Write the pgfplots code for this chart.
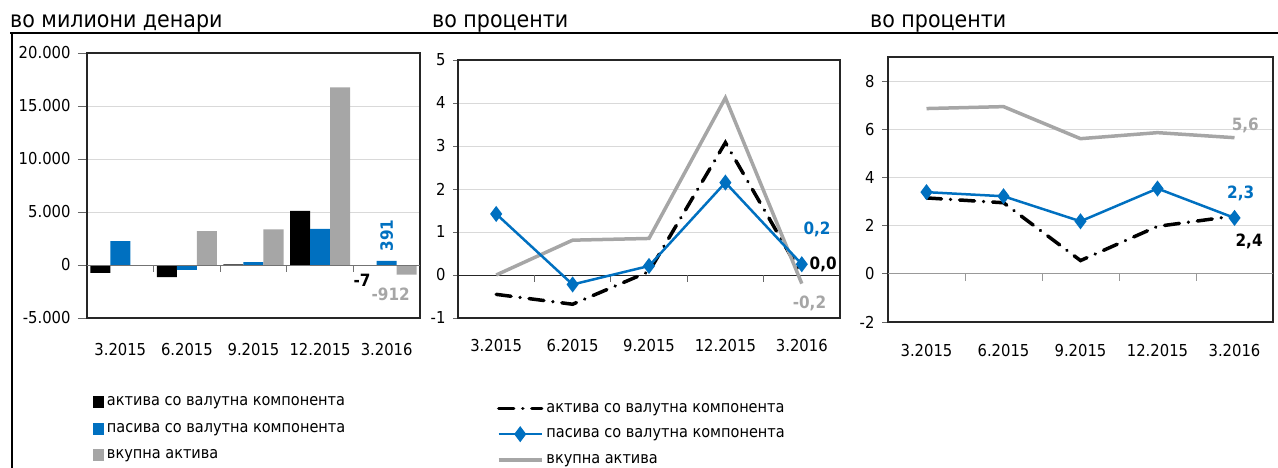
\documentclass[border=0pt]{standalone}
\usepackage{fontspec}
\setmainfont{DejaVu Sans Condensed}
\usepackage{pgfplots}
\pgfplotsset{compat=1.18}
\definecolor{nbblue}{RGB}{0,112,192}
\definecolor{nbgray}{RGB}{166,166,166}
\definecolor{gridc}{RGB}{217,217,217}

\tikzset{
  lbl/.style={font=\fontsize{17}{19}\selectfont\bfseries, inner sep=0pt},
  aktiva/.style={black, line width=3.5bp, line cap=round, dash pattern=on 15bp off 9bp on 0.1bp off 9bp},
  pasiva/.style={nbblue, line width=2.5bp, mark=diamond*, mark size=6bp, mark options={solid}},
  vkupna/.style={nbgray, line width=3.5bp},
}

\pgfplotsset{
  panel/.style={
    scale only axis, clip=false,
    xmin=-0.5, xmax=4.5,
    xtick={0,...,4},
    xticklabels={3.2015,6.2015,9.2015,12.2015,3.2016},
    x tick style={draw=none},
    xticklabel style={inner sep=0pt, anchor=north, yshift=-16bp},
    yticklabel style={xshift=-4bp},
    tick label style={font=\fontsize{16.5}{18}\selectfont},
    /pgf/number format/assume math mode=true,
    ymajorgrids, grid style={gridc, line width=1bp},
    axis line style={black!85, line width=1.3bp},
    y tick style={black!60, line width=0.8bp},
    tick align=outside, major tick length=6bp, ytick pos=left,
    legend style={draw=none, fill=none, inner sep=0pt, outer sep=0pt,
      font=\fontsize{16.2}{18}\selectfont,
      nodes={inner sep=0pt, anchor=west},
      /tikz/every odd column/.append style={column sep=3bp}},
    legend cell align=left,
  },
  barleg/.style={legend image code/.code={\fill[##1] (0bp,-6bp) rectangle (11bp,6bp);}},
  lineleg/.style={legend image code/.code={
    \draw[mark repeat=2, mark phase=2, ##1] plot coordinates {(0bp,0bp) (21.5bp,0bp) (43bp,0bp)};}},
}

\begin{document}
\begin{tikzpicture}
\useasboundingbox (0,0) rectangle (1278bp,-468bp);

% frame and titles
\draw[black, line width=2bp] (10bp,-33bp) -- (1278bp,-33bp);
\draw[black, line width=2bp] (12bp,-33bp) -- (12bp,-468bp);
\node[anchor=base west, inner sep=0pt, font=\fontsize{23}{25}\selectfont] at (10bp,-27bp) {во милиони денари};
\node[anchor=base west, inner sep=0pt, font=\fontsize{23}{25}\selectfont] at (432bp,-27bp) {во проценти};
\node[anchor=base west, inner sep=0pt, font=\fontsize{23}{25}\selectfont] at (870bp,-27bp) {во проценти};

% panel 1: bars
\begin{axis}[panel, at={(87bp,-53bp)}, anchor=north west,
    width=333bp, height=265bp,
    ybar=0pt, bar width=20bp, major tick length=9bp,
    ymin=-5000, ymax=20000, ytick={-5000,0,5000,10000,15000,20000},
    scaled y ticks=false,
    yticklabel style={/pgf/number format/.cd, 1000 sep={.}, fixed},
    legend style={at={(0.018,-0.295)}, anchor=north west,
      /tikz/row sep=14.5bp}]
  \addplot[fill=black, draw=none, barleg] coordinates {(0,-750) (1,-1150) (2,50) (3,5100) (4,-7)};
  \addlegendentry{актива со валутна компонента}
  \addplot[fill=nbblue, draw=none, barleg] coordinates {(0,2260) (1,-450) (2,280) (3,3400) (4,391)};
  \addlegendentry{пасива со валутна компонента}
  \addplot[fill=nbgray, draw=none, barleg] coordinates {(0,0) (1,3200) (2,3370) (3,16750) (4,-912)};
  \addlegendentry{вкупна актива}
  \draw[black!55, line width=1bp] (axis cs:-0.5,0) -- (axis cs:4.5,0);
  \pgfplotsinvokeforeach{0.5,1.5,2.5,3.5}{\draw[black!55, line width=1bp] (axis cs:#1,0) -- ([yshift=-7bp]axis cs:#1,0);}
  \node[lbl, black] at (axis cs:3.63,-1415) {-7};
  \node[lbl, nbgray] at (axis cs:4.06,-2735) {-912};
  \node[lbl, nbblue, rotate=90] at (axis cs:4.0,2800) {391};
\end{axis}

% panel 2
\begin{axis}[panel, at={(458bp,-60bp)}, anchor=north west,
    width=382bp, height=258bp, major tick length=5bp,
    ymin=-1, ymax=5, ytick={-1,0,...,5},
    legend style={at={(0.102,-0.33)}, anchor=north west,
      /tikz/row sep=14.5bp}]
  \draw[black!85, line width=1bp] (axis cs:-0.5,0) -- (axis cs:4.5,0);
  \pgfplotsinvokeforeach{0.5,1.5,2.5,3.5}{\draw[black!60, line width=1bp] (axis cs:#1,0) -- ([yshift=-7bp]axis cs:#1,0);}
  \addplot[aktiva, forget plot] coordinates {(0,-0.45) (1,-0.68) (2,0.08) (3,3.08) (4,0.0)};
  \addplot[vkupna, forget plot] coordinates {(0,0.0) (1,0.81) (2,0.85) (3,4.12) (4,-0.2)};
  \addplot[pasiva, forget plot] coordinates {(0,1.42) (1,-0.22) (2,0.21) (3,2.15) (4,0.25)};
  \addlegendimage{aktiva, lineleg}
  \addlegendentry{актива со валутна компонента}
  \addlegendimage{pasiva, lineleg}
  \addlegendentry{пасива со валутна компонента}
  \addlegendimage{vkupna, lineleg}
  \addlegendentry{вкупна актива}
  \node[lbl, nbblue] at (axis cs:4.2,1.06) {0,2};
  \node[lbl, black] at (axis cs:4.28,0.25) {0,0};
  \node[lbl, nbgray] at (axis cs:4.1,-0.66) {-0,2};
\end{axis}

% panel 3
\begin{axis}[panel, at={(888bp,-57bp)}, anchor=north west,
    width=385bp, height=265bp,
    ymin=-2, ymax=9, ytick={-2,0,...,8}]
  \draw[black!40, line width=1bp] (axis cs:-0.5,0) -- (axis cs:4.5,0);
  \pgfplotsinvokeforeach{0.5,1.5,2.5,3.5}{\draw[black!40, line width=1bp] (axis cs:#1,0) -- ([yshift=-7bp]axis cs:#1,0);}
  \addplot[aktiva] coordinates {(0,3.15) (1,2.95) (2,0.55) (3,1.97) (4,2.4)};
  \addplot[vkupna] coordinates {(0,6.86) (1,6.94) (2,5.61) (3,5.86) (4,5.65)};
  \addplot[pasiva] coordinates {(0,3.39) (1,3.22) (2,2.18) (3,3.54) (4,2.32)};
  \node[lbl, nbgray] at (axis cs:4.14,6.15) {5,6};
  \node[lbl, nbblue] at (axis cs:4.08,3.35) {2,3};
  \node[lbl, black] at (axis cs:4.19,1.35) {2,4};
\end{axis}
\end{tikzpicture}
\end{document}
